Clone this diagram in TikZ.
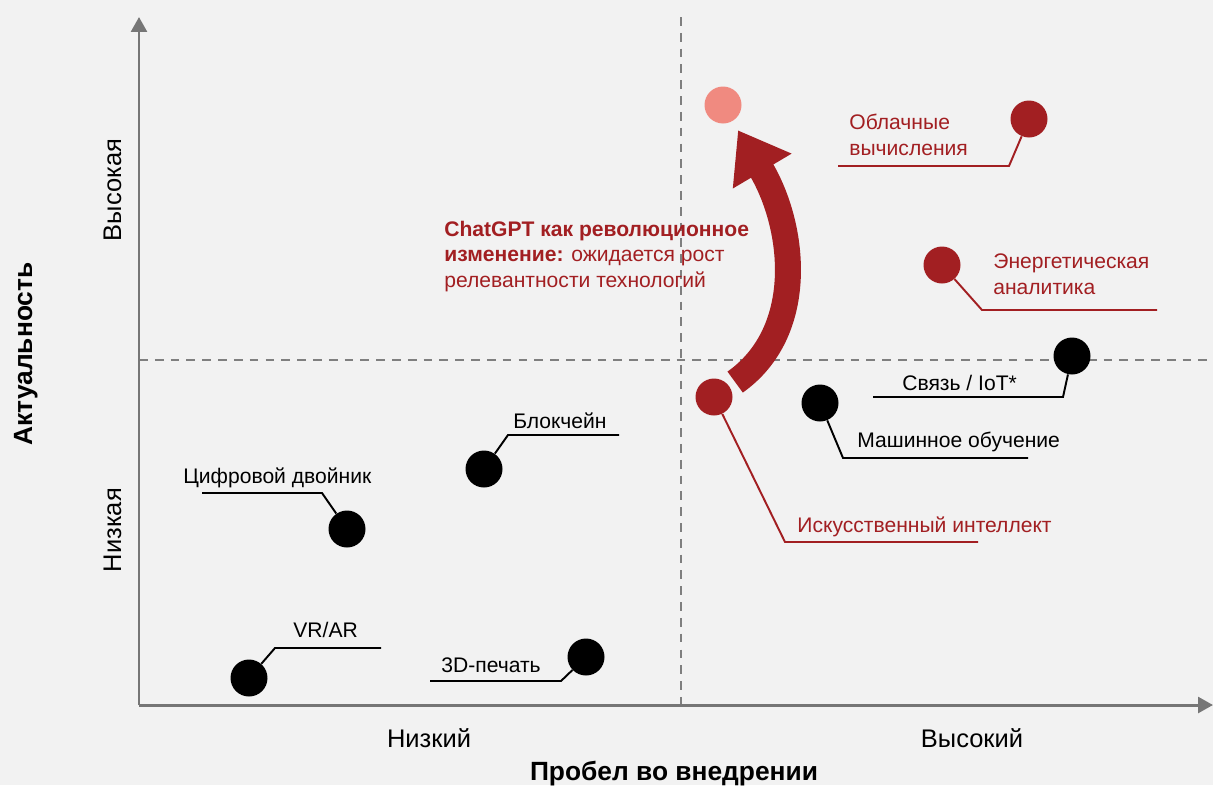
\documentclass[tikz,border=0pt]{standalone}
\usepackage{fontspec}
\setmainfont{Liberation Sans}
\usetikzlibrary{arrows.meta}
\definecolor{chartbg}{HTML}{F2F2F2}
\definecolor{axisgray}{HTML}{767676}
\definecolor{gridgray}{HTML}{7F7F7F}
\definecolor{techred}{HTML}{A21F22}
\definecolor{techpink}{HTML}{F08A80}
\begin{document}
\begin{tikzpicture}[x=0.02cm,y=-0.02cm,
  dot/.style={shape=circle, minimum size=0.74cm, inner sep=0pt},
  lead/.style={line width=1.1pt},
  lbl/.style={anchor=base west, inner sep=0pt, font=\fontsize{12}{14.5}\selectfont},
  axlbl/.style={anchor=base, inner sep=0pt, font=\fontsize{14.5}{17}\selectfont},
  axtitle/.style={anchor=base, inner sep=0pt, font=\fontsize{15}{18}\selectfont\bfseries}]
%%% background
\fill[chartbg] (0,0) rectangle (1213,785);
\useasboundingbox (0,0) rectangle (1213,785);

%%% quadrants
\coordinate (vtop) at (681,17);
\coordinate (vbot) at (681,705);
\coordinate (hleft) at (139,360);
\coordinate (hright) at (1213,360);
\draw[gridgray, line width=1.2pt, dash pattern=on 5pt off 4pt] (vtop)--(vbot);
\draw[gridgray, line width=1.2pt, dash pattern=on 5pt off 4pt] (hleft)--(hright);

%%% axes
\coordinate (O) at (139,705);
\coordinate (ytip) at (139,17);
\coordinate (xtip) at (1213,705);
\draw[axisgray, line width=1.7pt, -{Triangle[length=8.5pt,width=9pt]}] (O)--(ytip);
\draw[axisgray, line width=1.7pt, -{Triangle[length=8.5pt,width=9pt]}] (O)--(xtip);

\node[axlbl] (xlow) at (429,747) {Низкий};
\node[axlbl] (xhigh) at (972,747) {Высокий};
\node[axtitle] (xtitle) at (674,780) {Пробел во внедрении};
\node[axlbl, rotate=90] (yhigh) at (121,190) {Высокая};
\node[axlbl, rotate=90] (ylow) at (121,530) {Низкая};
\node[axtitle, rotate=90] (ytitle) at (32,354) {Актуальность};

%%% technologies
\node[dot, fill=black] (vr) at (249,678) {};
\node[dot, fill=black] (print) at (586,657) {};
\node[dot, fill=black] (twin) at (347,529) {};
\node[dot, fill=black] (chain) at (484,469) {};
\node[dot, fill=black] (ml) at (820,403) {};
\node[dot, fill=black] (iot) at (1072,356) {};
\node[dot, fill=techred] (ai) at (714,397) {};
\node[dot, fill=techred] (cloud) at (1029,119) {};
\node[dot, fill=techred] (energy) at (942,265) {};
\node[dot, fill=techpink] (chat) at (723,105) {};

\coordinate (vr-k) at (275,648);   \coordinate (vr-e) at (381,648);
\coordinate (print-k) at (561,681);\coordinate (print-e) at (430,681);
\coordinate (twin-k) at (322,493); \coordinate (twin-e) at (202,493);
\coordinate (chain-k) at (508,435);\coordinate (chain-e) at (619,435);
\coordinate (ml-k) at (843,458);   \coordinate (ml-e) at (1028,458);
\coordinate (iot-k) at (1063,397); \coordinate (iot-e) at (873,397);
\coordinate (ai-k) at (785,542);   \coordinate (ai-e) at (978,542);
\coordinate (cloud-k) at (1009,166);\coordinate (cloud-e) at (838,166);
\coordinate (energy-k) at (982,310);\coordinate (energy-e) at (1157,310);

\draw[lead] (vr)--(vr-k)--(vr-e);
\draw[lead] (print)--(print-k)--(print-e);
\draw[lead] (twin)--(twin-k)--(twin-e);
\draw[lead] (chain)--(chain-k)--(chain-e);
\draw[lead] (ml)--(ml-k)--(ml-e);
\draw[lead] (iot)--(iot-k)--(iot-e);
\draw[lead, techred] (ai)--(ai-k)--(ai-e);
\draw[lead, techred] (cloud)--(cloud-k)--(cloud-e);
\draw[lead, techred] (energy)--(energy-k)--(energy-e);

\node[lbl] (vr-l) at (293,637) {VR/AR};
\node[lbl] (print-l) at (441,672) {3D-печать};
\node[lbl] (twin-l) at (183,483) {Цифровой двойник};
\node[lbl] (chain-l) at (513,428) {Блокчейн};
\node[lbl] (ml-l) at (857,447) {Машинное обучение};
\node[lbl] (iot-l) at (902,390) {Связь / IoT*};
\node[lbl, techred] (ai-l) at (797,532) {Искусственный интеллект};
\node[lbl, techred, align=left] (cloud-l) at (849,155) {Облачные\\вычисления};
\node[lbl, techred, align=left] (energy-l) at (993,294) {Энергетическая\\аналитика};

%%% ChatGPT shift
\draw[techred, line width=14.8pt, shorten <=4pt, shorten >=6pt,
  -{Triangle[length=27pt,width=37pt]}]
  (ai) .. controls (806,332) and (796,228) .. (chat);
\node[lbl, techred, align=left] (note) at (444,287)
  {{\bfseries ChatGPT как революционное}\\{\bfseries изменение:} ожидается рост\\релевантности технологий};

%\draw[lead] (chat)--(ai);
\end{tikzpicture}
\end{document}
